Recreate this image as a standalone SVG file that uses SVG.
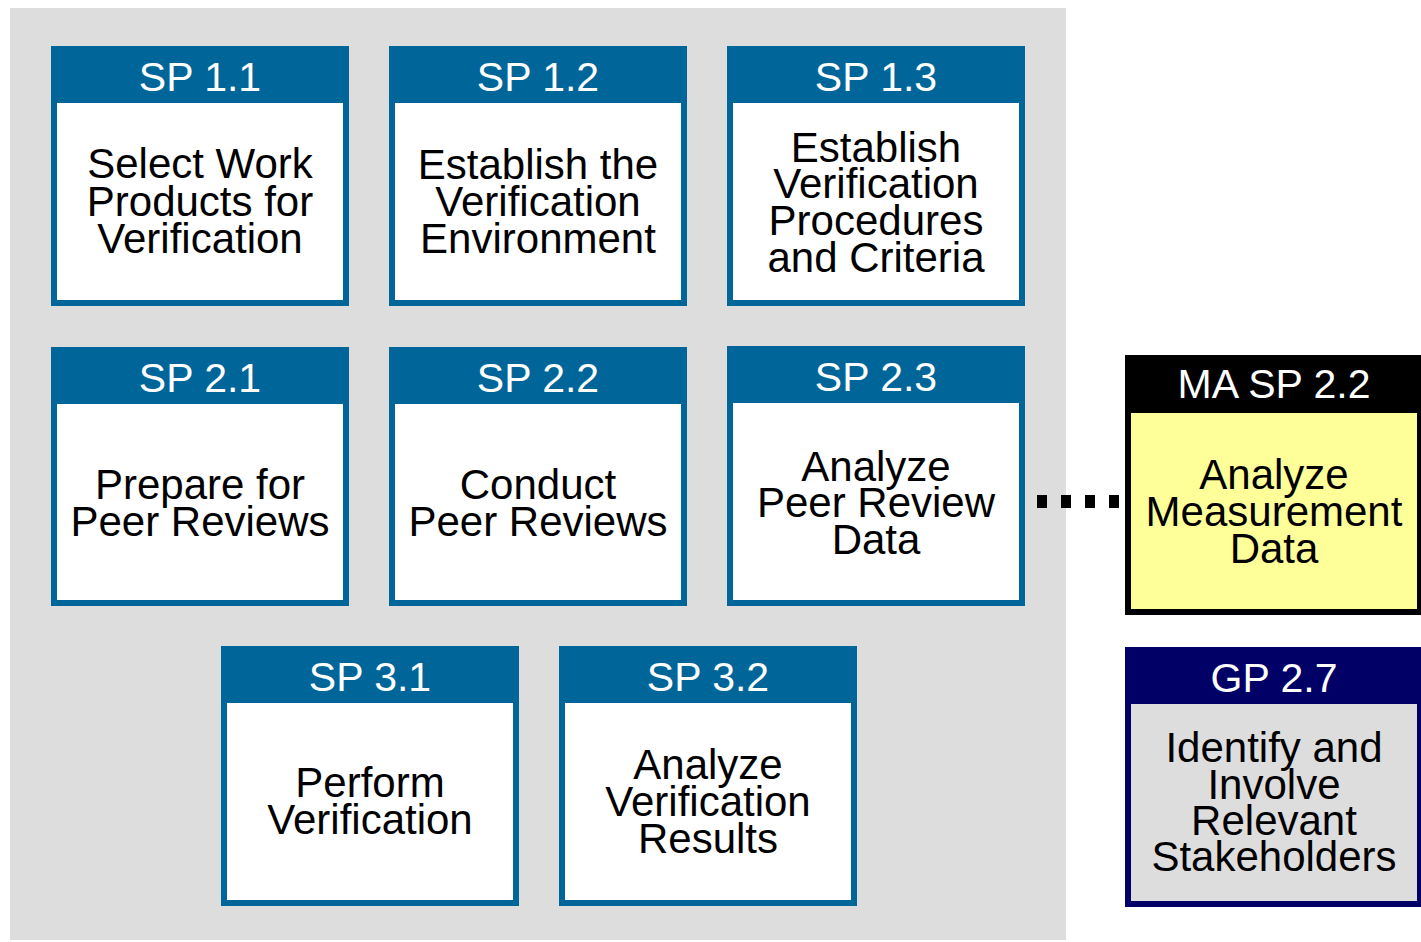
<svg xmlns="http://www.w3.org/2000/svg" width="1421" height="942" viewBox="0 0 1421 942">
<style>
.hdr{font-family:"Liberation Sans",Arial,sans-serif;font-size:41px;fill:#ffffff;text-anchor:middle}
.body{font-family:"Liberation Sans",Arial,sans-serif;font-size:42px;fill:#000000;text-anchor:middle}
.sp{fill:#006699}
.in{fill:#ffffff}
</style>
<rect x="0" y="0" width="1421" height="942" fill="#ffffff"/>
<rect x="10" y="8" width="1056" height="932" fill="#dddddd"/>

<g id="connectors">
<line x1="1037" y1="501.5" x2="1120" y2="501.5" stroke="#000000" stroke-width="13" stroke-dasharray="10 14"/>
</g>

<g id="sp11">
<rect class="sp" x="51" y="46" width="298" height="260"/>
<rect class="in" x="57" y="103" width="286" height="197"/>
<text class="hdr" x="200" y="91">SP 1.1</text>
<text class="body" x="200" y="178">Select Work</text>
<text class="body" x="200" y="216">Products for</text>
<text class="body" x="200" y="253">Verification</text>
</g>

<g id="sp12">
<rect class="sp" x="389" y="46" width="298" height="260"/>
<rect class="in" x="395" y="103" width="286" height="197"/>
<text class="hdr" x="538" y="91">SP 1.2</text>
<text class="body" x="538" y="179">Establish the</text>
<text class="body" x="538" y="216">Verification</text>
<text class="body" x="538" y="253">Environment</text>
</g>

<g id="sp13">
<rect class="sp" x="727" y="46" width="298" height="260"/>
<rect class="in" x="733" y="103" width="286" height="197"/>
<text class="hdr" x="876" y="91">SP 1.3</text>
<text class="body" x="876" y="161.5">Establish</text>
<text class="body" x="876" y="198">Verification</text>
<text class="body" x="876" y="235">Procedures</text>
<text class="body" x="876" y="271.5">and Criteria</text>
</g>

<g id="sp21">
<rect class="sp" x="51" y="347" width="298" height="259"/>
<rect class="in" x="57" y="404" width="286" height="196"/>
<text class="hdr" x="200" y="392">SP 2.1</text>
<text class="body" x="200" y="499">Prepare for</text>
<text class="body" x="200" y="536">Peer Reviews</text>
</g>

<g id="sp22">
<rect class="sp" x="389" y="347" width="298" height="259"/>
<rect class="in" x="395" y="404" width="286" height="196"/>
<text class="hdr" x="538" y="392">SP 2.2</text>
<text class="body" x="538" y="499">Conduct</text>
<text class="body" x="538" y="536">Peer Reviews</text>
</g>

<g id="sp23">
<rect class="sp" x="727" y="346" width="298" height="260"/>
<rect class="in" x="733" y="403" width="286" height="197"/>
<text class="hdr" x="876" y="391">SP 2.3</text>
<text class="body" x="876" y="480.5">Analyze</text>
<text class="body" x="876" y="517">Peer Review</text>
<text class="body" x="876" y="554">Data</text>
</g>

<g id="sp31">
<rect class="sp" x="221" y="646" width="298" height="260"/>
<rect class="in" x="227" y="703" width="286" height="197"/>
<text class="hdr" x="370" y="691">SP 3.1</text>
<text class="body" x="370" y="797">Perform</text>
<text class="body" x="370" y="834">Verification</text>
</g>

<g id="sp32">
<rect class="sp" x="559" y="646" width="298" height="260"/>
<rect class="in" x="565" y="703" width="286" height="197"/>
<text class="hdr" x="708" y="691">SP 3.2</text>
<text class="body" x="708" y="779">Analyze</text>
<text class="body" x="708" y="816">Verification</text>
<text class="body" x="708" y="853">Results</text>
</g>

<g id="masp22">
<rect x="1125" y="355" width="298" height="260" fill="#000000"/>
<rect x="1131" y="413" width="286" height="196" fill="#ffff99"/>
<text class="hdr" x="1274" y="398">MA SP 2.2</text>
<text class="body" x="1274" y="488.5">Analyze</text>
<text class="body" x="1274" y="525.5">Measurement</text>
<text class="body" x="1274" y="562.5">Data</text>
</g>

<g id="gp27">
<rect x="1125" y="647" width="298" height="260" fill="#000066"/>
<rect x="1131" y="704" width="286" height="197" fill="#dddddd"/>
<text class="hdr" x="1274" y="692">GP 2.7</text>
<text class="body" x="1274" y="762">Identify and</text>
<text class="body" x="1274" y="798.5">Involve</text>
<text class="body" x="1274" y="835">Relevant</text>
<text class="body" x="1274" y="871">Stakeholders</text>
</g>
</svg>
